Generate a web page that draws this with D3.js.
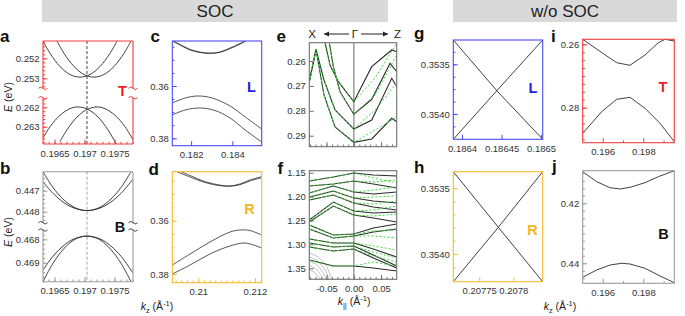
<!DOCTYPE html>
<html>
<head>
<meta charset="utf-8">
<script src="https://cdn.jsdelivr.net/npm/d3@7"></script>
<style>
  body { margin: 0; background: #fff; }
  svg { font-family: "Liberation Sans", Arial, sans-serif; }
</style>
</head>
<body>
<svg id="fig" width="685" height="316"></svg>
<script>
// ---------- data: [k, E] pairs ----------
// a : T point with SOC (broken energy axis)
const aUp1 = [[0.196308,0.25114],[0.196425,0.25175],[0.196591,0.25241],[0.196758,0.25281],[0.196925,0.25294],[0.197091,0.25281],[0.197258,0.25241],[0.197425,0.25175],[0.197541,0.25114]];
const aUp2 = [[0.196541,0.25114],[0.196658,0.25175],[0.196825,0.25241],[0.196991,0.25281],[0.197158,0.25294],[0.197325,0.25281],[0.197491,0.25241],[0.197658,0.25175],[0.197775,0.25114]];
const aLo1 = [[0.196308,0.26358],[0.196425,0.263],[0.196591,0.26241],[0.196758,0.26207],[0.196891,0.26198],[0.197058,0.26211],[0.197225,0.2625],[0.197391,0.26316],[0.197508,0.26377],[0.197533,0.26389]];
const aLo2 = [[0.196591,0.26377],[0.196708,0.26316],[0.196875,0.2625],[0.197041,0.26211],[0.197208,0.26198],[0.197341,0.26207],[0.197508,0.26241],[0.197675,0.263],[0.197808,0.26367]];
// b : B point with SOC
const bUp1 = [[0.196308,0.4461],[0.196475,0.44685],[0.196641,0.4474],[0.196808,0.44776],[0.196925,0.4479],[0.197041,0.44795],[0.197158,0.4479],[0.197275,0.44776],[0.197441,0.4474],[0.197608,0.44685],[0.197775,0.4461]];
const bUp2 = [[0.196308,0.44658],[0.196475,0.44713],[0.196641,0.44754],[0.196808,0.44781],[0.197041,0.44795],[0.197275,0.44781],[0.197441,0.44754],[0.197608,0.44713],[0.197808,0.44645]];
const bLo1 = [[0.196308,0.46981],[0.196475,0.46902],[0.196641,0.46844],[0.196808,0.46805],[0.196925,0.46791],[0.197041,0.46786],[0.197158,0.46791],[0.197275,0.46805],[0.197441,0.46844],[0.197608,0.46902],[0.197775,0.46981]];
const bLo2 = [[0.196308,0.46931],[0.196475,0.46872],[0.196641,0.46829],[0.196808,0.468],[0.197041,0.46786],[0.197275,0.468],[0.197441,0.46829],[0.197608,0.46872],[0.197808,0.46944]];
// c : L point with SOC
const c1 = [[0.18109,0.34279],[0.18147,0.34432],[0.18195,0.34623],[0.18244,0.34719],[0.18292,0.3475],[0.1834,0.347],[0.18389,0.34547],[0.18437,0.34375],[0.18461,0.34279]];
const c2 = [[0.18114,0.34279],[0.18147,0.34415],[0.18195,0.346],[0.18244,0.34705],[0.18292,0.34745],[0.1834,0.34712],[0.18389,0.3457],[0.18437,0.344],[0.18465,0.34279]];
const c3 = [[0.18109,0.3665],[0.18171,0.36459],[0.18234,0.36382],[0.18302,0.36459],[0.18389,0.36765],[0.18462,0.37185],[0.18542,0.37644]];
const c4 = [[0.18109,0.37109],[0.18171,0.36918],[0.18244,0.36841],[0.18316,0.36937],[0.18389,0.37224],[0.18462,0.37683],[0.18542,0.38141]];
// d : R point with SOC
const d1 = [[0.20924,0.34161],[0.20971,0.3436],[0.21024,0.34567],[0.21077,0.34687],[0.21112,0.34698],[0.21147,0.34623],[0.21182,0.34473],[0.21224,0.34349]];
const d2 = [[0.20939,0.34161],[0.20971,0.34305],[0.21024,0.34535],[0.21077,0.34665],[0.21112,0.34705],[0.21147,0.3465],[0.21182,0.3451],[0.21224,0.34385]];
const d3b = [[0.20908,0.37662],[0.20971,0.37249],[0.21041,0.36799],[0.21112,0.36424],[0.21147,0.36349],[0.21182,0.36368],[0.21224,0.36537]];
const d4 = [[0.20908,0.38],[0.20971,0.37662],[0.21041,0.37249],[0.21112,0.36949],[0.21165,0.36837],[0.21224,0.37024]];
// e : bands along X <- Gamma -> Z (black = one calc, green dashed = other)
const eBlack = [
  [[-0.0527,0.25265],[-0.0436,0.2616],[-0.0284,0.26831],[0,0.27635],[0.0328,0.26229],[0.0694,0.25558],[0.0786,0.25627]],
  [[-0.0449,0.25265],[-0.0375,0.26229],[-0.0253,0.27233],[0,0.2814],[0.0328,0.27538],[0.0663,0.26092],[0.0786,0.2643]],
  [[-0.0815,0.26831],[-0.0692,0.2553],[-0.0546,0.26763],[-0.0344,0.27968],[0,0.28731],[0.0328,0.28369],[0.0694,0.26695],[0.0786,0.27032]],
  [[-0.0815,0.26831],[-0.0692,0.2553],[-0.0546,0.27365],[-0.0344,0.28651],[0,0.29265],[0.0328,0.29133],[0.0694,0.28301],[0.0786,0.28438]]
];
const eGreen = [
  [[-0.0527,0.25265],[-0.0436,0.2616],[-0.0284,0.26831],[0,0.27635],[0.0388,0.26683],[0.0786,0.25289]],
  [[-0.0449,0.25265],[-0.0375,0.26229],[-0.0253,0.27233],[0,0.2814],[0.0388,0.27365],[0.0786,0.25759]],
  [[-0.0815,0.26831],[-0.0692,0.2553],[-0.0546,0.26763],[-0.0344,0.27968],[0,0.28731],[0.0388,0.27968],[0.0786,0.26884]],
  [[-0.0815,0.26831],[-0.0692,0.2553],[-0.0546,0.27365],[-0.0344,0.28651],[0,0.29265],[0.0388,0.28771],[0.0786,0.28249]]
];
// f : wider energy window, same k path; energies at the k columns below
const fK = [-0.0815, -0.0375, 0, 0.0357, 0.0786];
const fBlack = [
  [1.1674,1.159,1.1506,1.1548,1.1569],
  [1.1778,1.1736,1.1674,1.1736,1.182],
  [1.1925,1.1778,1.1904,1.1946,1.1904],
  [1.2008,1.1883,1.2029,1.2092,1.2134],
  [1.2071,1.1967,1.2134,1.2218,1.228],
  [1.249,1.2113,1.2301,1.2343,1.2322],
  [1.2531,1.2197,1.2385,1.2448,1.2531],
  [1.2594,1.2803,1.2782,1.2657,1.2573],
  [1.2678,1.2866,1.2824,1.2741,1.2678],
  [1.2887,1.2971,1.2971,1.3096,1.3264],
  [1.2971,1.3054,1.3033,1.3222,1.3452],
  [1.3054,1.3138,1.3096,1.3285,1.3494],
  [1.3326,1.3452,1.3452,1.3494,1.3556]
];
const fGreen = [
  [1.1674,1.159,1.1506,1.1611,1.1715],
  [1.1778,1.1736,1.1674,1.1695,1.1653],
  [1.1925,1.1778,1.1904,1.1862,1.1799],
  [1.2008,1.1883,1.2029,1.2008,1.1987],
  [1.2071,1.1967,1.2134,1.2155,1.2092],
  [1.249,1.2113,1.2301,1.228,1.2197],
  [1.2531,1.2197,1.2385,1.2406,1.2364],
  [1.2594,1.2803,1.2782,1.272,1.2699],
  [1.2678,1.2866,1.2824,1.2824,1.2866],
  [1.2887,1.2971,1.2971,1.3033,1.3117],
  [1.2971,1.3054,1.3033,1.3159,1.3285],
  [1.3054,1.3138,1.3096,1.3243,1.3368],
  [1.3326,1.3452,1.3452,1.3368,1.3452]
];
const fGray = [
  [[-0.0815,1.318],[-0.065,1.326],[-0.05,1.345],[-0.04,1.373]],
  [[-0.0815,1.326],[-0.066,1.334],[-0.053,1.352],[-0.045,1.373]],
  [[-0.0815,1.335],[-0.068,1.342],[-0.057,1.358],[-0.05,1.373]],
  [[-0.0815,1.344],[-0.07,1.35],[-0.061,1.363],[-0.055,1.373]],
  [[-0.0815,1.353],[-0.072,1.358],[-0.065,1.368],[-0.061,1.373]]
];
// g, h : L and R without SOC (linear crossings)
const g1 = [[0.186389,0.353256],[0.186444,0.353766],[0.186502,0.354255]];
const g2 = [[0.186389,0.354255],[0.186444,0.353766],[0.186502,0.353256]];
const h1 = [[0.207712,0.353374],[0.207778,0.353797],[0.207843,0.354211]];
const h2 = [[0.207712,0.354211],[0.207778,0.353797],[0.207843,0.353374]];
// i, j : T and B without SOC
const i1 = [[0.195015,0.25842],[0.195768,0.2618],[0.19669,0.2658],[0.197345,0.26662],[0.198084,0.26338],[0.198739,0.2595],[0.199069,0.25842],[0.199527,0.25896]];
const i2 = [[0.195015,0.28808],[0.195951,0.28126],[0.19669,0.27735],[0.197345,0.27672],[0.198084,0.28019],[0.198823,0.28492],[0.199527,0.29073]];
const j1 = [[0.195015,0.40947],[0.195705,0.4128],[0.19636,0.4148],[0.196852,0.41523],[0.197345,0.41467],[0.198084,0.41313],[0.198739,0.41113],[0.199527,0.40913]];
const j2 = [[0.195015,0.44467],[0.195705,0.44223],[0.19636,0.44057],[0.196936,0.44],[0.197345,0.44023],[0.198084,0.44167],[0.198823,0.44423],[0.199527,0.44647]];

// tick labels
const abX = [0.1965, 0.197, 0.1975];
const cX = [0.182, 0.184], cdY = [0.36, 0.38];
const dX = [0.21, 0.212];
const efX = [-0.05, 0, 0.05];
const eY = [0.26, 0.27, 0.28, 0.29];
const fY = [1.15, 1.20, 1.25, 1.30, 1.35];
const gX = [0.1864, 0.18645, 0.1865], ghY = [0.3535, 0.3540];
const hX = [0.20775, 0.2078];
const ijX = [0.196, 0.198], iY = [0.26, 0.28], jY = [0.42, 0.44];

// ---------- drawing ----------
const svg = d3.select('#fig');
const defs = svg.append('defs');
const RED = '#f03c3c', BLUE = '#4b4bf2', ORANGE = '#f8bb30', GREYB = '#9c9c9c', GREYE = '#707070';
const INK = '#2b2b2b';
const GREEN = '#3ad83a';
const smooth = d3.curveCatmullRom.alpha(0.5);

let nClip = 0;
function clipRect(x0, y0, x1, y1) {
  const id = 'clip' + (nClip++);
  defs.append('clipPath').attr('id', id).append('rect')
    .attr('x', x0).attr('y', y0).attr('width', x1 - x0).attr('height', y1 - y0);
  return 'url(#' + id + ')';
}

function styleAxis(sel, color) {
  sel.attr('font-family', null).attr('font-size', 9.5);
  sel.select('.domain').remove();
  sel.selectAll('.tick line').attr('stroke', color);
  sel.selectAll('.tick text').attr('fill', '#333');
}

function steps(a, b, st) {
  return d3.range(Math.ceil(a / st - 1e-9), Math.floor(b / st + 1e-9) + 1).map(i => +(i * st).toFixed(8));
}

function squiggle(g, x, y, color) {
  g.append('path').attr('d', `M${x - 4.5},${y} q2.25,-2.6 4.5,0 t4.5,0`)
    .attr('fill', 'none').attr('stroke', color).attr('stroke-width', 1);
}

function drawPanel(p) {
  const g = svg.append('g');
  const x = d3.scaleLinear().domain(p.xDomain).range([p.x0, p.x1]);
  const segs = p.segs.map(s => Object.assign({}, s, { y: d3.scaleLinear().domain(s.domain).range(s.range) }));
  const top = segs[0].range[0], bottom = segs[segs.length - 1].range[1];

  if (p.vline) {
    g.append('line').attr('x1', x(p.vline.k)).attr('x2', x(p.vline.k)).attr('y1', top).attr('y2', bottom)
      .attr('stroke', p.vline.color).attr('stroke-width', p.vline.width)
      .attr('stroke-dasharray', p.vline.dash || null);
  }

  (p.curves || []).forEach(c => {
    const s = segs[c.seg || 0];
    const line = d3.line().x(d => x(d[0])).y(d => s.y(d[1])).curve(c.curve || d3.curveLinear);
    g.append('path').attr('d', line(c.data)).attr('fill', 'none')
      .attr('stroke', c.color || INK).attr('stroke-width', c.width || 0.9)
      .attr('stroke-dasharray', c.dash || null)
      .attr('clip-path', clipRect(p.x0, s.range[0], p.x1, s.range[1]));
  });

  // bottom axis (ticks point inward)
  if (p.xMinor) {
    g.append('g').attr('transform', `translate(0,${bottom})`)
      .call(d3.axisBottom(x).tickValues(p.xMinor).tickSize(-2.2).tickFormat(''))
      .call(styleAxis, p.color);
  }
  g.append('g').attr('transform', `translate(0,${bottom})`)
    .call(d3.axisBottom(x).tickValues(p.xMajor).tickSize(-4.5).tickPadding(6)
      .tickFormat(p.xLabels === false ? '' : (p.xFmt || String)))
    .call(styleAxis, p.color);

  // left axis per segment
  segs.forEach(s => {
    if (s.minor) {
      g.append('g').attr('transform', `translate(${p.x0},0)`)
        .call(d3.axisLeft(s.y).tickValues(s.minor).tickSize(-2.2).tickFormat(''))
        .call(styleAxis, p.color);
    }
    g.append('g').attr('transform', `translate(${p.x0},0)`)
      .call(d3.axisLeft(s.y).tickValues(s.major).tickSize(-4.5).tickPadding(3.5).tickFormat(p.yFmt || String))
      .call(styleAxis, p.color);
  });

  // frame
  if (segs.length === 1) {
    g.append('rect').attr('x', p.x0).attr('y', top).attr('width', p.x1 - p.x0).attr('height', bottom - top)
      .attr('fill', 'none').attr('stroke', p.color).attr('stroke-width', 1.1);
  } else {
    const gap0 = segs[0].range[1], gap1 = segs[1].range[0];
    const fr = `M${p.x0},${top}H${p.x1}M${p.x0},${bottom}H${p.x1}` +
      `M${p.x0},${top}V${gap0}M${p.x0},${gap1}V${bottom}` +
      `M${p.x1},${top}V${gap0}M${p.x1},${gap1}V${bottom}`;
    g.append('path').attr('d', fr).attr('fill', 'none').attr('stroke', p.color).attr('stroke-width', 1.1);
    [p.x0, p.x1].forEach(xx => { squiggle(g, xx, gap0, p.sqColor || p.color); squiggle(g, xx, gap1, p.sqColor || p.color); });
  }
  return { g, x, segs };
}

// ---- header bars ----
svg.append('rect').attr('x', 42).attr('y', 0).attr('width', 346).attr('height', 22).attr('fill', '#d9d9d9');
svg.append('rect').attr('x', 453).attr('y', 0).attr('width', 224).attr('height', 22).attr('fill', '#d9d9d9');
svg.append('text').attr('x', 215).attr('y', 17).attr('text-anchor', 'middle').attr('font-size', 17).attr('fill', '#222').text('SOC');
svg.append('text').attr('x', 565).attr('y', 17).attr('text-anchor', 'middle').attr('font-size', 17).attr('fill', '#222').text('w/o SOC');

// ---- a ----
drawPanel({
  x0: 43, x1: 133, xDomain: [0.196308, 0.197808], color: RED,
  xMajor: abX, xMinor: steps(0.1964, 0.1978, 0.0001),
  segs: [
    { range: [41, 88.3], domain: [0.251135, 0.2535], major: [0.252, 0.253], minor: steps(0.2512, 0.2535, 0.0002) },
    { range: [97.7, 144], domain: [0.261505, 0.26389], major: [0.262, 0.263], minor: steps(0.2616, 0.2638, 0.0002) }
  ],
  vline: { k: 0.197041, color: '#333', width: 0.9, dash: '3,2' },
  curves: [
    { data: aUp1, seg: 0, curve: smooth }, { data: aUp2, seg: 0, curve: smooth },
    { data: aLo1, seg: 1, curve: smooth }, { data: aLo2, seg: 1, curve: smooth }
  ]
});

// ---- b ----
drawPanel({
  x0: 43, x1: 133, xDomain: [0.196308, 0.197808], color: GREYB, sqColor: '#444',
  xMajor: abX, xMinor: steps(0.1964, 0.1978, 0.0001),
  segs: [
    { range: [171.7, 222.7], domain: [0.4461, 0.448524], major: [0.447, 0.448], minor: steps(0.4462, 0.4485, 0.0002) },
    { range: [230, 281.7], domain: [0.4676, 0.46981], major: [0.468, 0.469], minor: steps(0.4678, 0.4698, 0.0002) }
  ],
  vline: { k: 0.197041, color: '#999', width: 0.9, dash: '3,2' },
  curves: [
    { data: bUp1, seg: 0, curve: smooth }, { data: bUp2, seg: 0, curve: smooth },
    { data: bLo1, seg: 1, curve: smooth }, { data: bLo2, seg: 1, curve: smooth }
  ]
});

// ---- c ----
drawPanel({
  x0: 172.3, x1: 261.7, xDomain: [0.18109, 0.18542], color: BLUE, xMajor: cX,
  segs: [{ range: [41, 145.7], domain: [0.34279, 0.38283], major: cdY, minor: steps(0.345, 0.38, 0.005) }],
  curves: [c1, c2, c3, c4].map(d => ({ data: d, curve: smooth, width: 0.8 }))
});

// ---- d ----
drawPanel({
  x0: 172.3, x1: 261.7, xDomain: [0.20908, 0.21224], color: ORANGE, xMajor: dX, xMinor: steps(0.2092, 0.2122, 0.0002),
  segs: [{ range: [171.7, 282.7], domain: [0.34161, 0.38326], major: cdY, minor: steps(0.345, 0.38, 0.005) }],
  curves: [d1, d2, d3b, d4].map(d => ({ data: d, curve: smooth, width: 0.8 }))
});

// ---- e ----
const eCurves = eBlack.map(d => ({ data: d, width: 1.1 }))
  .concat(eGreen.map(d => ({ data: d, color: GREEN, dash: '2,2', width: 1 })));
drawPanel({
  x0: 309.3, x1: 396.7, xDomain: [-0.0815, 0.0785], color: GREYE,
  xMajor: efX, xMinor: steps(-0.08, 0.07, 0.01), xLabels: false,
  segs: [{ range: [42.7, 146.7], domain: [0.25265, 0.29442], major: eY }],
  yFmt: d => d.toFixed(2),
  vline: { k: 0, color: '#9a9a9a', width: 1.5 },
  curves: eCurves
});

// ---- f ----
const toPts = row => row.map((e, i) => [fK[i], e]);
const fCurves = fGray.map(d => ({ data: d, color: '#b5b5b5', width: 0.8 }))
  .concat(fBlack.map(r => ({ data: toPts(r), width: 1.1 })))
  .concat(fGreen.map(r => ({ data: toPts(r), color: GREEN, dash: '2,2', width: 1 })));
drawPanel({
  x0: 309.3, x1: 396.7, xDomain: [-0.0815, 0.0785], color: GREYE,
  xMajor: efX, xMinor: steps(-0.08, 0.07, 0.01), xFmt: d => d.toFixed(2),
  segs: [{ range: [170.7, 279.3], domain: [1.1458, 1.373], major: fY }],
  yFmt: d => d.toFixed(2),
  vline: { k: 0, color: '#9a9a9a', width: 1.5 },
  curves: fCurves
});

// ---- g ----
drawPanel({
  x0: 453.3, x1: 542.7, xDomain: [0.186389, 0.186502], color: BLUE, xMajor: gX,
  segs: [{ range: [40, 139.3], domain: [0.353256, 0.354255], major: ghY, minor: steps(0.353375, 0.354125, 0.000125) }],
  yFmt: d => d.toFixed(4),
  curves: [{ data: g1 }, { data: g2 }]
});

// ---- h ----
drawPanel({
  x0: 453.3, x1: 542.7, xDomain: [0.207712, 0.207843], color: ORANGE, xMajor: hX,
  segs: [{ range: [171.7, 281.7], domain: [0.353374, 0.354211], major: ghY, minor: steps(0.3534, 0.3542, 0.0001) }],
  yFmt: d => d.toFixed(4),
  curves: [{ data: h1 }, { data: h2 }]
});

// ---- i ----
drawPanel({
  x0: 582.7, x1: 674.3, xDomain: [0.195015, 0.199527], color: RED, xMajor: ijX, xMinor: [0.197, 0.199],
  segs: [{ range: [39.3, 142.7], domain: [0.25842, 0.29104], major: iY, minor: steps(0.26, 0.29, 0.0025) }],
  curves: [{ data: i1 }, { data: i2 }]
});

// ---- j ----
drawPanel({
  x0: 582.7, x1: 674.3, xDomain: [0.195015, 0.199527], color: GREYB, xMajor: ijX, xMinor: [0.197, 0.199],
  segs: [{ range: [170.7, 283.3], domain: [0.40913, 0.44667], major: jY, minor: steps(0.41, 0.445, 0.0025) }],
  curves: [{ data: j1 }, { data: j2 }]
});

// ---- panel letters ----
const letters = [['a', 0, 41.5], ['b', 0, 174], ['c', 150.5, 42], ['d', 148.5, 175], ['e', 276.5, 42.3],
  ['f', 277.5, 174], ['g', 414, 38.5], ['h', 414, 172.7], ['i', 551, 41.5], ['j', 552, 172]];
svg.selectAll('text.letter').data(letters).join('text').attr('class', 'letter')
  .attr('x', d => d[1]).attr('y', d => d[2]).attr('font-size', 17).attr('font-weight', 'bold')
  .attr('fill', '#111').text(d => d[0]);

// ---- point labels ----
const pts = [['T', 122.5, 95.5, '#ee1d1d'], ['B', 120, 232, '#111'], ['L', 251.5, 92, '#2323e6'], ['R', 249.5, 214, '#f6b41f'],
  ['L', 533, 93, '#2323e6'], ['R', 532.5, 234.5, '#f6b41f'], ['T', 663, 92, '#ee1d1d'], ['B', 663.5, 238.5, '#111']];
svg.selectAll('text.pt').data(pts).join('text').attr('class', 'pt')
  .attr('x', d => d[1]).attr('y', d => d[2]).attr('text-anchor', 'middle')
  .attr('font-size', 14.5).attr('font-weight', 'bold').attr('fill', d => d[3]).text(d => d[0]);

// ---- axis titles ----
function eLabel(cx, cy) {
  const t = svg.append('text').attr('transform', `translate(${cx},${cy}) rotate(-90)`)
    .attr('text-anchor', 'middle').attr('font-size', 10.5).attr('fill', '#222');
  t.append('tspan').attr('font-style', 'italic').text('E');
  t.append('tspan').text(' (eV)');
}
eLabel(12, 97);
eLabel(12, 232);

function kLabel(cx, y, sub) {
  const t = svg.append('text').attr('x', cx).attr('y', y).attr('text-anchor', 'middle')
    .attr('font-size', 10.5).attr('fill', '#222');
  t.append('tspan').attr('font-style', 'italic').text('k');
  t.append('tspan').attr('font-size', 7.5).attr('dy', 2.5).text(sub);
  t.append('tspan').attr('dy', -2.5).text(' (Å');
  t.append('tspan').attr('font-size', 7.5).attr('dy', -4).text('-1');
  t.append('tspan').attr('dy', 4).text(')');
}
kLabel(157, 310, 'z');
kLabel(354, 305, '||');
kLabel(560, 310, 'z');

// ---- k-path annotation above e ----
const pathY = 34;
svg.append('text').attr('x', 312).attr('y', pathY + 4).attr('text-anchor', 'middle').attr('font-size', 11.5).attr('fill', '#222').text('X');
svg.append('text').attr('x', 355).attr('y', pathY + 4).attr('text-anchor', 'middle').attr('font-size', 11.5).attr('fill', '#222').text('Γ');
svg.append('text').attr('x', 397.5).attr('y', pathY + 4).attr('text-anchor', 'middle').attr('font-size', 11.5).attr('fill', '#222').text('Z');
function arrow(xa, xb) {
  svg.append('line').attr('x1', xa).attr('x2', xb).attr('y1', pathY).attr('y2', pathY).attr('stroke', '#222').attr('stroke-width', 1);
  const dir = Math.sign(xb - xa);
  svg.append('path').attr('d', `M${xb},${pathY}L${xb - dir * 5},${pathY - 2.6}L${xb - dir * 5},${pathY + 2.6}Z`).attr('fill', '#222');
}
arrow(349, 324);
arrow(361, 388);
</script>
</body>
</html>
